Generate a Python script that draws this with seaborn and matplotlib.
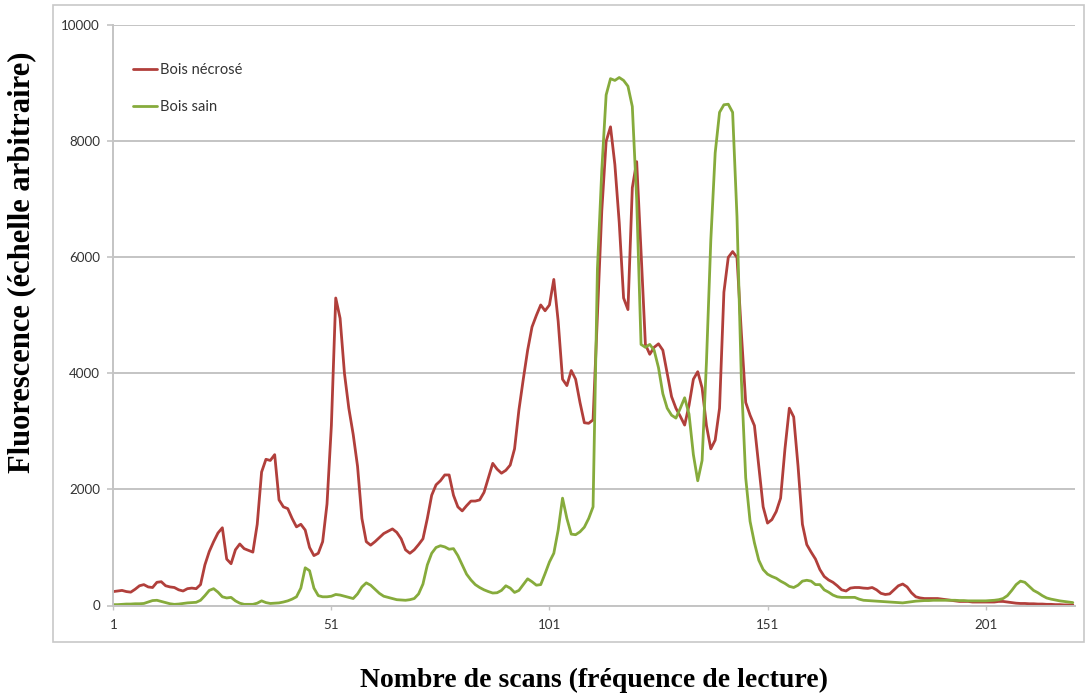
import numpy as np
import pandas as pd
import matplotlib
matplotlib.use("Agg")
import matplotlib.pyplot as plt
import seaborn as sns
from matplotlib.patches import Rectangle

# ---------------- data ----------------
scans = list(range(1, 222))

bois_necrose = [
    240, 250, 260, 240, 230, 280, 340, 360, 320, 310,
    400, 410, 340, 320, 310, 270, 250, 290, 300, 290,
    360, 700, 930, 1100, 1250, 1340, 800, 720, 960, 1060,
    980, 950, 920, 1400, 2300, 2520, 2500, 2600, 1820, 1700,
    1670, 1500, 1355, 1400, 1300, 1000, 860, 900, 1100, 1750,
    3100, 5300, 4950, 4000, 3400, 2950, 2400, 1500, 1100, 1040,
    1100, 1170, 1240, 1280, 1320, 1260, 1150, 960, 900, 960,
    1050, 1150, 1500, 1900, 2080, 2150, 2250, 2250, 1900, 1700,
    1630, 1720, 1800, 1800, 1820, 1950, 2200, 2450, 2350, 2280,
    2330, 2420, 2700, 3370, 3900, 4400, 4800, 5000, 5180, 5080,
    5180, 5620, 4900, 3900, 3790, 4050, 3900, 3500, 3150, 3140,
    3200, 5000, 6800, 8000, 8250, 7600, 6600, 5300, 5100, 7200,
    7650, 6100, 4500, 4330, 4450, 4510, 4400, 4000, 3600, 3400,
    3260, 3110, 3450, 3900, 4030, 3750, 3100, 2700, 2850, 3400,
    5400, 6000, 6100, 6000, 4700, 3500, 3280, 3100, 2400, 1700,
    1420, 1480, 1620, 1850, 2700, 3400, 3250, 2400, 1400, 1050,
    920, 800, 620, 500, 440, 400, 340, 270, 250, 300,
    310, 310, 300, 295, 310, 270, 210, 190, 200, 270,
    340, 370, 320, 220, 150, 130, 120, 120, 120, 120,
    110, 100, 90, 80, 70, 70, 70, 60, 60, 60,
    60, 60, 60, 70, 70, 60, 50, 40, 35, 35,
    30, 30, 25, 25, 20, 20, 15, 15, 10, 10,
    10,
]

bois_sain = [
    15, 15, 20, 25, 25, 30, 30, 35, 60, 85,
    90, 70, 50, 30, 20, 25, 35, 45, 50, 55,
    90, 170, 260, 290, 230, 150, 130, 140, 80, 40,
    20, 20, 20, 40, 80, 50, 35, 40, 45, 60,
    80, 110, 150, 300, 650, 600, 300, 170, 150, 150,
    160, 190, 180, 160, 140, 120, 200, 320, 390, 350,
    280, 210, 160, 140, 120, 100, 95, 90, 100, 120,
    200, 370, 700, 900, 1000, 1030, 1010, 970, 980, 860,
    700, 540, 440, 360, 310, 270, 240, 215, 220, 260,
    340, 300, 225, 260, 360, 460, 410, 350, 360, 550,
    750, 900, 1300, 1850, 1500, 1230, 1220, 1270, 1350, 1500,
    1700, 5800, 7500, 8800, 9080, 9050, 9100, 9050, 8950, 8600,
    7000, 4500, 4450, 4500, 4400, 4100, 3650, 3400, 3280, 3230,
    3400, 3580, 3300, 2600, 2150, 2500, 4200, 6300, 7800, 8500,
    8630, 8640, 8500, 6700, 3900, 2200, 1450, 1080, 780, 620,
    540, 500, 470, 420, 380, 330, 310, 350, 420, 435,
    420, 360, 360, 270, 230, 180, 150, 140, 140, 140,
    140, 110, 90, 85, 80, 75, 70, 65, 60, 55,
    50, 45, 55, 65, 75, 80, 85, 85, 90, 90,
    90, 90, 90, 90, 85, 85, 80, 80, 80, 80,
    80, 85, 90, 100, 120, 170, 260, 360, 420, 400,
    330, 260, 220, 170, 130, 110, 95, 80, 70, 60,
    50,
]

series_names = ["Bois nécrosé", "Bois sain"]
x_ticks = [1, 51, 101, 151, 201]
y_ticks = [0, 2000, 4000, 6000, 8000, 10000]
y_label = "Fluorescence (échelle arbitraire)"
x_label = "Nombre de scans (fréquence de lecture)"

# ---------------- style ----------------
sns.set_theme(style="white")
plt.rcParams['font.family'] = ['Lato', 'DejaVu Sans']

red = "#B13F3B"
green = "#86AB3C"
grid_col = "#c4c4c4"

df = pd.DataFrame({
    "scan": scans + scans,
    "valeur": bois_necrose + bois_sain,
    "serie": [series_names[0]] * len(scans) + [series_names[1]] * len(scans),
})

fig = plt.figure(figsize=(10.86, 6.95), dpi=100)
fig.patch.set_facecolor("white")

# outer chart border
fig.patches.append(Rectangle((53 / 1086, 1 - 641.5 / 695), (1084 - 53) / 1086, (641.5 - 5) / 695,
                             transform=fig.transFigure, fill=False,
                             edgecolor="#c8c8c8", linewidth=1.2, zorder=0))

ax = fig.add_axes([113.3 / 1086, 1 - 605.5 / 695, (1075 - 113.3) / 1086, (605.5 - 25.3) / 695])
ax.set_facecolor("white")

sns.lineplot(data=df, x="scan", y="valeur", hue="serie",
             palette=[red, green], linewidth=2.0, ax=ax, legend=False)

ax.set_xlim(1, 221.5)
ax.set_ylim(0, 10000)
ax.set_xticks(x_ticks)
ax.set_xticklabels([str(t) for t in x_ticks])
ax.set_yticks(y_ticks)
ax.set_yticklabels([str(t) for t in y_ticks])

ax.yaxis.grid(True, color=grid_col, linewidth=1.4)
ax.xaxis.grid(False)
ax.set_axisbelow(True)

for side in ["top", "right"]:
    ax.spines[side].set_visible(False)
for side in ["left", "bottom"]:
    ax.spines[side].set_color(grid_col)
    ax.spines[side].set_linewidth(1.4)

ax.tick_params(axis="y", which="both", left=True, length=4.5, width=1.2,
               color=grid_col, labelsize=9.6, labelcolor="#333333", pad=5)
ax.tick_params(axis="x", which="both", bottom=True, length=3, width=1.0,
               color=grid_col, labelsize=9.6, labelcolor="#333333", pad=7)

ax.set_xlabel("")
ax.set_ylabel("")

# legend
handles = [plt.Line2D([], [], color=red, linewidth=2.0),
           plt.Line2D([], [], color=green, linewidth=2.0)]
ax.legend(handles, series_names, loc="upper left", bbox_to_anchor=(0.02, 0.935),
          frameon=False, fontsize=10.5, handlelength=1.65, handletextpad=0.2,
          labelspacing=1.6, borderpad=0, borderaxespad=0, labelcolor="#333333")

# axis titles
serif = ['Liberation Serif', 'DejaVu Serif']
fig.text(22 / 1086, 1 - 262 / 695, y_label, rotation=90, ha="center", va="center",
         fontsize=22, fontweight="bold", family=serif, color="black")
fig.text(594 / 1086, 1 - 680 / 695, x_label, ha="center", va="center",
         fontsize=20, fontweight="bold", family=serif, color="black")

fig.savefig("out.png", dpi=100, facecolor="white")
